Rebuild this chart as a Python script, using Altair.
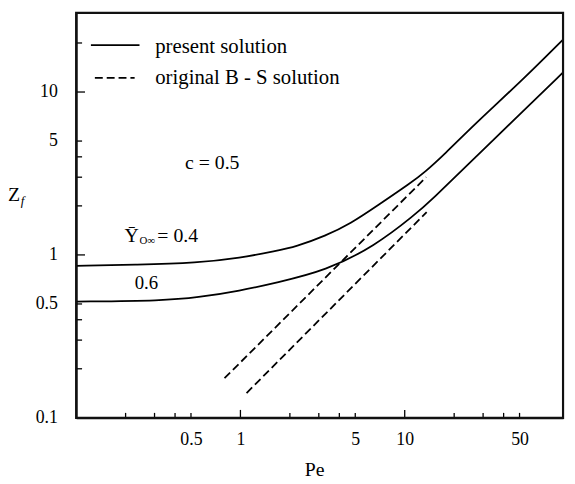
import altair as alt
import pandas as pd

# ---- data ----
pe_04 = [0.1, 0.236, 0.543, 1.0, 1.65, 2.17, 3.30, 4.66, 6.88, 11.0, 13.2, 17.4, 26.4, 52.8, 92]
z_04 = [0.857, 0.869, 0.894, 0.959, 1.058, 1.122, 1.31, 1.55, 2.018, 2.787, 3.21, 4.13, 6.29, 12.0, 21.0]
pe_06 = [0.1, 0.344, 0.543, 1.0, 1.65, 3.30, 6.59, 11.5, 14.5, 26.4, 52.8, 92]
z_06 = [0.517, 0.524, 0.547, 0.603, 0.675, 0.799, 1.135, 1.76, 2.164, 3.90, 7.66, 13.2]
bs_pe_04 = [0.80, 13.5]
bs_z_04 = [0.175, 3.0]
bs_pe_06 = [1.09, 13.6]
bs_z_06 = [0.142, 1.83]

x_labels = [0.5, 1, 5, 10, 50]
y_labels = [0.1, 0.5, 1, 5, 10]
x_major_ticks = [1, 10]
x_minor_ticks = [0.2, 0.3, 0.4, 0.5, 2, 3, 4, 5, 20, 30, 40, 50]
y_major_ticks = [1, 10]
y_minor_ticks = [0.2, 0.3, 0.4, 0.5, 2, 3, 4, 5, 20]

legend_texts = ["present solution", "original B - S solution"]
legend_pe = [0.303, 0.303]
legend_z = [17.3, 11.2]
leg_solid_pe = [0.123, 0.243]
leg_solid_z = [19.4, 19.4]
leg_dash_pe = [0.130, 0.227]
leg_dash_z = [12.2, 12.2]

ann_texts = ["c = 0.5", "\u0232", "O\u221e", "= 0.4", "0.6"]
ann_pe = [0.46, 0.197, 0.243, 0.312, 0.227]
ann_z = [3.39, 1.2, 1.167, 1.2, 0.62]
ann_size = [20, 20, 11, 20, 19]

FONT = "Liberation Serif"
W, H = 493, 410
XD = [0.1, 92]
YD = [0.1, 30.6]

xs = alt.Scale(type="log", domain=XD, nice=False)
ys = alt.Scale(type="log", domain=YD, nice=False)

X_AX = alt.Axis(values=x_labels, format="~g", grid=False, ticks=False, tickSize=0,
                labelPadding=27, labelBaseline="alphabetic", labelFontSize=18,
                labelFont=FONT, labelColor="black", domainColor="black", domainWidth=2,
                titleFont=FONT, titleFontSize=20, titleFontWeight="normal",
                titleColor="black", titleX=241, titleY=58,
                titleBaseline="alphabetic", labelFlush=False)
Y_AX = alt.Axis(values=y_labels, format="~g", grid=False, ticks=False, tickSize=0,
                labelPadding=19, labelFontSize=18, labelFont=FONT,
                labelColor="black", domainColor="black", domainWidth=2,
                labelFlush=False)


def X(field):
    return alt.X(field, scale=xs, axis=X_AX, title="Pe")


def Y(field):
    return alt.Y(field, scale=ys, axis=Y_AX, title=None)


def curve_df(pe, z):
    return pd.DataFrame({"Pe": pe, "Z": z})


def line_layer(df, dash=None, smooth=True):
    kw = dict(color="black", strokeWidth=1.8, clip=True)
    if smooth:
        kw["interpolate"] = "basis"
    if dash:
        kw["strokeDash"] = dash
    return alt.Chart(df).mark_line(**kw).encode(x=X("Pe:Q"), y=Y("Z:Q"))


l04 = line_layer(curve_df(pe_04, z_04))
l06 = line_layer(curve_df(pe_06, z_06))
d04 = line_layer(curve_df(bs_pe_04, bs_z_04), dash=[8, 4], smooth=False)
d06 = line_layer(curve_df(bs_pe_06, bs_z_06), dash=[8, 4], smooth=False)
leg_s = line_layer(curve_df(leg_solid_pe, leg_solid_z), smooth=False)
leg_d = line_layer(curve_df(leg_dash_pe, leg_dash_z), dash=[8, 4], smooth=False)

leg_txt = alt.Chart(pd.DataFrame({"Pe": legend_pe, "Z": legend_z, "t": legend_texts})).mark_text(
    align="left", baseline="alphabetic", font=FONT, fontSize=21, color="black"
).encode(x=X("Pe:Q"), y=Y("Z:Q"), text="t:N")

ann = alt.Chart(pd.DataFrame({"Pe": ann_pe, "Z": ann_z, "t": ann_texts, "s": ann_size})).mark_text(
    align="left", baseline="alphabetic", font=FONT, color="black"
).encode(x=X("Pe:Q"), y=Y("Z:Q"), text="t:N",
         size=alt.Size("s:Q", scale=None, legend=None))


def xticks(vals, length):
    return alt.Chart(pd.DataFrame({"Pe": vals})).mark_rule(color="black", strokeWidth=1.3).encode(
        x=X("Pe:Q"), y=alt.value(H), y2=alt.value(H - length))


def yticks(vals, length):
    return alt.Chart(pd.DataFrame({"Z": vals})).mark_rule(color="black", strokeWidth=1.3).encode(
        y=Y("Z:Q"), x=alt.value(0), x2=alt.value(length))


# plot frame
frame = alt.Chart(pd.DataFrame({"k": [0]})).mark_rect(
    fill="transparent", stroke="#111111", strokeWidth=2.2, fillOpacity=0
).encode(x=alt.value(0), x2=alt.value(W), y=alt.value(0), y2=alt.value(H))

zlab = alt.Chart(pd.DataFrame({"t": ["Z"]})).mark_text(
    align="left", baseline="alphabetic", font=FONT, fontSize=20, color="black"
).encode(x=alt.value(-69), y=alt.value(190), text="t:N")
flab = alt.Chart(pd.DataFrame({"t": ["f"]})).mark_text(
    align="left", baseline="alphabetic", font=FONT, fontSize=13, fontStyle="italic", color="black"
).encode(x=alt.value(-56), y=alt.value(195), text="t:N")

chart = alt.layer(
    l04, l06, d04, d06, leg_s, leg_d, leg_txt, ann,
    xticks(x_major_ticks, 8), xticks(x_minor_ticks, 5),
    yticks(y_major_ticks, 9), yticks(y_minor_ticks, 6),
    frame, zlab, flab,
).properties(
    width=W, height=H,
    background="white",
    autosize=alt.AutoSizeParams(type="none"),
    padding={"left": 69, "top": 2, "right": 4, "bottom": 60},
).configure_view(strokeWidth=0)

chart.save("out.html", embed_options={"renderer": "svg", "actions": False})
